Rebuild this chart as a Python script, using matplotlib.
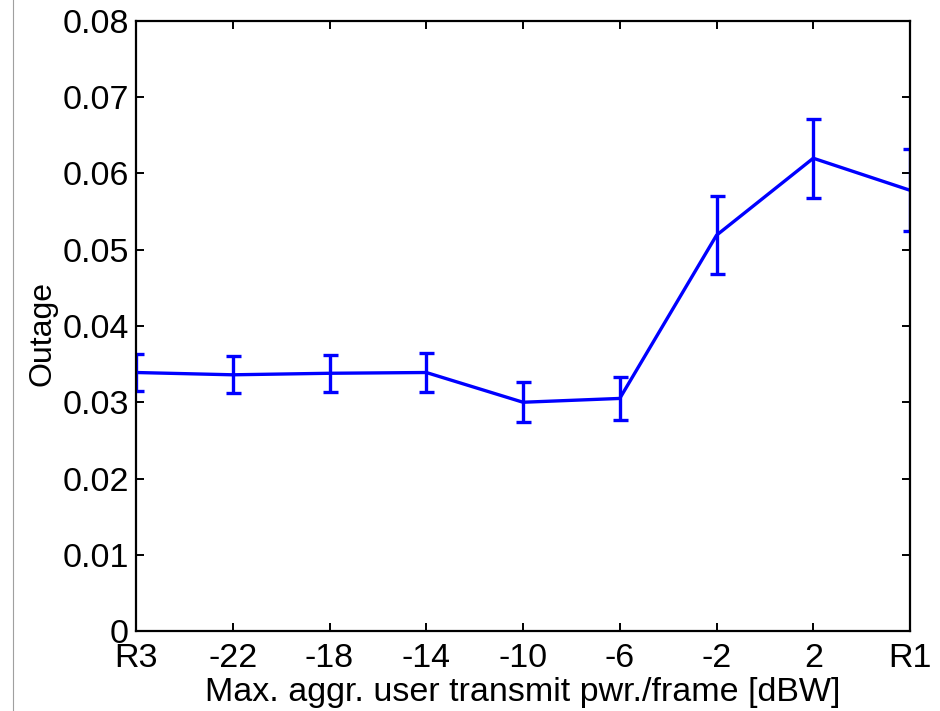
import numpy as np
import matplotlib
matplotlib.use("Agg")
import matplotlib.pyplot as plt
from matplotlib.lines import Line2D

plt.rcParams['font.family'] = ['Liberation Sans', 'DejaVu Sans']

# ---------- data ----------
tick_labels = ["R3", "-22", "-18", "-14", "-10", "-6", "-2", "2", "R1"]
outage      = [0.0339, 0.0336, 0.0338, 0.0339, 0.0300, 0.0305, 0.0519, 0.0620, 0.0578]
outage_err  = [0.0024, 0.0024, 0.0024, 0.0025, 0.0026, 0.0028, 0.0051, 0.0052, 0.0054]
yticks      = [0, 0.01, 0.02, 0.03, 0.04, 0.05, 0.06, 0.07, 0.08]
ytick_text  = ["0", "0.01", "0.02", "0.03", "0.04", "0.05", "0.06", "0.07", "0.08"]

x = np.arange(len(tick_labels))

fig = plt.figure(figsize=(9.4, 7.11), dpi=100)
ax = fig.add_axes([0.1447, 0.1125, 0.9681 - 0.1447, 0.9705 - 0.1125])

# error bars clipped at the axes box, like the MATLAB original ("[" / "]" at the ends)
ax.errorbar(x, outage, yerr=outage_err, color="#0000ff", lw=2.4,
            elinewidth=2.4, capsize=5.4, capthick=2.4)

ax.set_xlim(0, len(tick_labels) - 1)
ax.set_ylim(0, 0.08)
ax.set_xticks(x)
ax.set_xticklabels(tick_labels)
ax.set_yticks(yticks)
ax.set_yticklabels(ytick_text)

ax.tick_params(direction="in", length=5.8, width=1.4, labelsize=24.5,
               top=True, right=True)
ax.tick_params(axis="x", pad=8.5)
ax.tick_params(axis="y", pad=5)
for s in ax.spines.values():
    s.set_linewidth(1.6)

ax.set_xlabel("Max. aggr. user transmit pwr./frame [dBW]", fontsize=24.5, labelpad=2.5)
ax.set_ylabel("Outage", fontsize=23)
ax.yaxis.set_label_coords(-0.102, 0.487)

# thin frame border on the far left
fig.add_artist(Line2D([12.5 / 940, 12.5 / 940], [0, 1], color="#a0a0a0", lw=0.8))

fig.savefig("out.png", dpi=100)
